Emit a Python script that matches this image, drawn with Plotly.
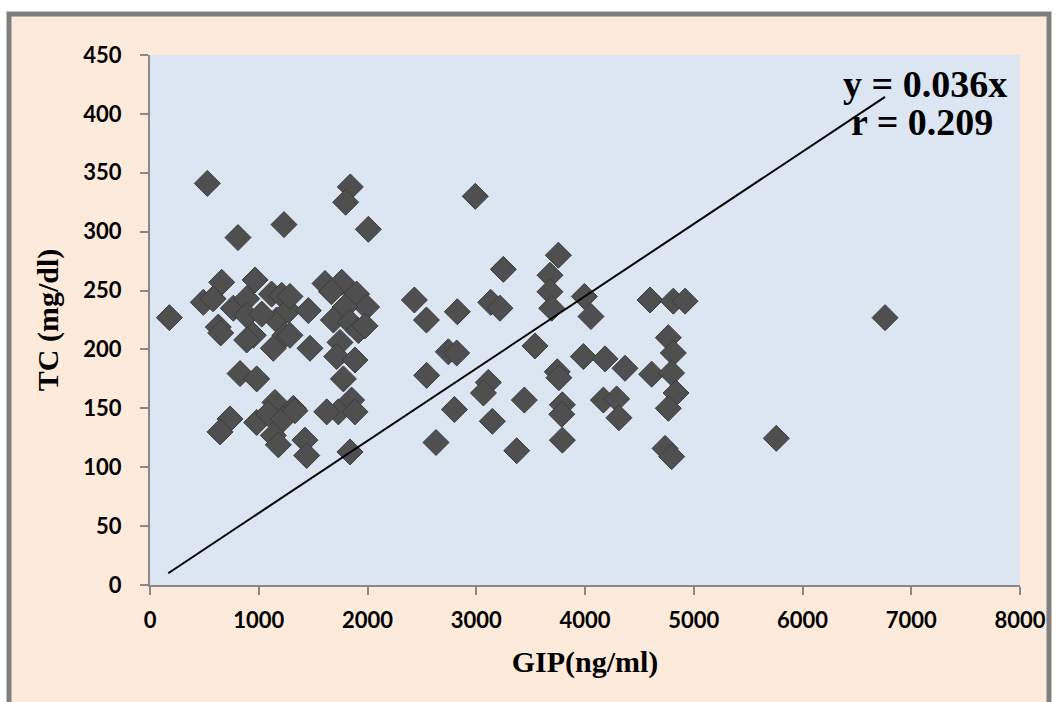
import plotly.graph_objects as go

# GIP (ng/ml) values
gip = [
    178, 527, 809, 1232, 1842, 1799, 2008, 2991, 3249, 3755, 3678, 3678, 3694, 3994, 4055,
    2431, 2542, 2826, 3133, 3218, 2743, 2820, 2544, 3540, 3745, 3760, 3985, 4184, 4368,
    4598, 4812, 4920, 4766, 4812, 4613, 4796, 4837, 4766, 3111, 3066, 2799, 3148, 3442,
    3792, 3786, 4169, 4291, 4312, 2630, 3372, 3792, 4736, 4797, 6759, 5759, 1839,
    659, 966, 490, 580, 628, 650, 766, 889, 889, 950, 889, 1118, 1211, 1165, 1241, 1134,
    1272, 1456, 1471, 1027, 1287, 1287, 1609, 1763, 1669, 1900, 1992, 1793, 1686, 1839,
    1916, 1977, 1747, 1717, 1885, 1778,
    828, 981,
    736, 644, 981, 1149, 1318, 1088, 1226, 1134, 1180, 1854, 1732, 1625, 1885, 1333,
    1425, 1441,
]

# TC (mg/dl) values
tc = [
    227, 341, 295, 306, 338, 325, 302, 330, 268, 280, 263, 249, 235, 245, 228,
    242, 225, 232, 240, 235, 198, 197, 178, 203, 181, 176, 194, 192, 184,
    242, 241, 241, 210, 197, 179, 180, 163, 150, 172, 163, 149, 139, 157,
    153, 145, 157, 158, 142, 121, 114, 123, 116, 109, 227, 124.5, 113,
    257, 259, 240, 243, 219, 214, 235, 243, 229, 212, 208, 247, 246, 225, 212, 201,
    233, 233, 201, 230, 245, 212, 256, 257, 249, 247, 236, 236, 225, 223,
    216, 220, 206, 194, 191, 175,
    179.5, 175,
    141, 130, 138, 155, 150, 145.5, 141, 127, 119, 157, 147, 147, 147, 148,
    123, 110,
]

# Trend line end points
trend_x = [168, 6759]
trend_y = [10, 414.5]

x_ticks = [0, 1000, 2000, 3000, 4000, 5000, 6000, 7000, 8000]
y_ticks = [0, 50, 100, 150, 200, 250, 300, 350, 400, 450]

equation_text = "y = 0.036x"
r_text = "r = 0.209"

W, H = 1056, 702
ML, MR, MT, MB = 150, 36, 55, 117
pw = W - ML - MR
ph = H - MT - MB


def px_to_paper_x(px):
    return (px - ML) / pw


def px_to_paper_y(py):
    return (H - MB - py) / ph


fig = go.Figure()

fig.add_trace(go.Scatter(
    x=gip, y=tc, mode="markers",
    marker=dict(symbol="diamond", size=20, color="#4f4f4f",
                line=dict(color="#3c3c3c", width=1)),
    showlegend=False,
))

fig.add_trace(go.Scatter(
    x=trend_x, y=trend_y, mode="lines",
    line=dict(color="black", width=2),
    showlegend=False,
))

# Outer frame
fig.add_shape(
    type="rect", xref="paper", yref="paper", layer="below",
    x0=px_to_paper_x(9), x1=px_to_paper_x(1049),
    y0=px_to_paper_y(720), y1=px_to_paper_y(14),
    fillcolor="#FDEADA", line=dict(color="#7F7F7F", width=5),
)
# Plot area background
fig.add_shape(
    type="rect", xref="paper", yref="paper", layer="below",
    x0=0, x1=1, y0=0, y1=1,
    fillcolor="#DCE6F2", line=dict(width=0),
)

title_font = dict(family="Liberation Serif", size=30, color="black")
tick_font = dict(family="Lato", size=22, color="black")

fig.update_xaxes(
    range=[0, 8000], tickvals=x_ticks, ticktext=["<b>%d</b>" % v for v in x_ticks],
    ticks="outside", ticklen=8, tickwidth=2, ticklabelstandoff=7,
    tickcolor="#888888", showline=True, linecolor="#888888", linewidth=2,
    showgrid=False, zeroline=False, tickfont=tick_font,
    title=dict(text="<b>GIP(ng/ml)</b>", font=title_font, standoff=19),
)
fig.update_yaxes(
    range=[0, 450], tickvals=y_ticks, ticktext=["<b>%d</b>" % v for v in y_ticks],
    ticks="outside", ticklen=8, tickwidth=2, ticklabelstandoff=14,
    tickcolor="#888888", showline=True, linecolor="#888888", linewidth=2,
    showgrid=False, zeroline=False, tickfont=tick_font,
    title=dict(text="<b>TC (mg/dl)</b>", font=title_font, standoff=16),
)

fig.add_annotation(
    x=px_to_paper_x(925), y=px_to_paper_y(84), xref="paper", yref="paper",
    xanchor="center", yanchor="middle",
    text="<b>" + equation_text + "</b>", showarrow=False,
    font=dict(family="Liberation Serif", size=38, color="black"),
)
fig.add_annotation(
    x=px_to_paper_x(922), y=px_to_paper_y(122), xref="paper", yref="paper",
    xanchor="center", yanchor="middle",
    text="<b>" + r_text + "</b>", showarrow=False,
    font=dict(family="Liberation Serif", size=38, color="black"),
)

fig.update_layout(
    width=W, height=H,
    margin=dict(l=ML, r=MR, t=MT, b=MB, autoexpand=False),
    paper_bgcolor="white", plot_bgcolor="#DCE6F2",
)

fig.write_html("out.html", config={"displayModeBar": False},
               post_script="document.body.style.margin='0px';")
